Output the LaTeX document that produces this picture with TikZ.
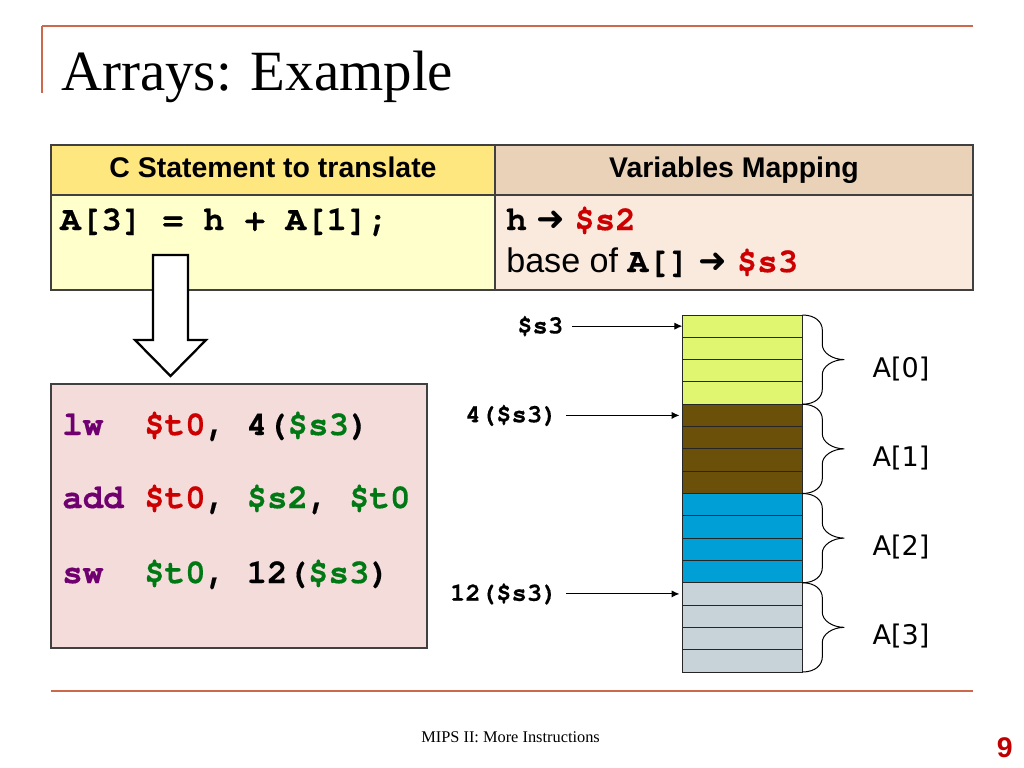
\documentclass[tikz,border=0pt]{standalone}
\usepackage{fontspec}
\setmainfont{Liberation Serif}
\setsansfont{Liberation Sans}
\setmonofont{texgyrecursor}[Extension=.otf, UprightFont=*-regular, BoldFont=*-bold,
    ItalicFont=*-italic, BoldItalicFont=*-bolditalic, BoldFeatures={FakeBold=0.4}]
\newfontfamily\labelfont{DejaVu Sans}
\definecolor{ruleorange}{RGB}{205, 105, 75}
\definecolor{hdryellow}{RGB}{255, 231, 128}
\definecolor{bodyyellow}{RGB}{255, 255, 204}
\definecolor{hdrtan}{RGB}{234, 210, 184}
\definecolor{bodytan}{RGB}{250, 234, 222}
\definecolor{codepink}{RGB}{244, 220, 218}
\definecolor{memyellow}{RGB}{224, 246, 112}
\definecolor{membrown}{RGB}{106, 80, 8}
\definecolor{memblue}{RGB}{0, 160, 214}
\definecolor{memgray}{RGB}{200, 211, 217}
\definecolor{mnempurple}{RGB}{112, 0, 112}
\definecolor{regred}{RGB}{204, 0, 0}
\definecolor{reggreen}{RGB}{0, 120, 20}
\definecolor{pagered}{RGB}{192, 0, 0}
\usetikzlibrary{arrows.meta, positioning, calc}

\newcommand{\pxlen}{0.7031pt}
\newcommand{\mono}[1]{{\ttfamily\bfseries #1}}
\newcommand{\mnem}[1]{\textcolor{mnempurple}{#1}}
\newcommand{\dreg}[1]{\textcolor{regred}{#1}}
\newcommand{\sreg}[1]{\textcolor{reggreen}{#1}}
\newcommand{\heavyarrow}{{\labelfont\bfseries ➜}}

\begin{document}
\begin{tikzpicture}[
    x=0.7031pt, y=-0.7031pt,
    rule/.style={ruleorange, line width=1.6pt},
    tabcell/.style={draw=black!75, line width=1pt, inner sep=0pt, outer sep=0pt},
    hdr/.style={tabcell, minimum height=50*\pxlen, text height=14pt, text depth=3pt,
                font=\sffamily\bfseries\fontsize{20}{24}\selectfont},
    txt/.style={anchor=base west, inner sep=0pt},
    code/.style={txt, font=\ttfamily\bfseries\fontsize{24}{28}\selectfont},
    cell/.style={draw=black!85, line width=0.7pt, minimum width=120*\pxlen,
                 minimum height=22.3125*\pxlen, inner sep=0pt, outer sep=0pt},
    ptr/.style={inner sep=0pt, font=\ttfamily\bfseries\fontsize{18}{20}\selectfont},
    ptrarr/.style={-{Latex[length=5.5pt, width=5pt]}, line width=0.7pt, shorten <=6pt},
    curly/.style={line width=0.7pt},
    idx/.style={anchor=west, inner sep=0pt, font=\labelfont\fontsize{19}{22}\selectfont},
    hollow/.style={draw=black, fill=white, line width=1.6pt, line join=miter}
]
    \fill[white] (0,0) rectangle (1024,768);
    \useasboundingbox (0,0) rectangle (1024,768);

    % slide frame and title
    \draw[rule] (42,26) -- (973,26);
    \draw[rule] (42,26) -- (42,93);
    \draw[rule] (51,691) -- (973,691);
    \node[txt, font=\rmfamily\fontsize{40}{44}\selectfont] (title) at (61,90) {Arrays: Example};

    % table
    \node[hdr, fill=hdryellow, minimum width=444*\pxlen] (stmthdr) at (273,170) {C Statement to translate};
    \node[hdr, fill=hdrtan, minimum width=478*\pxlen] (maphdr) at (734,170) {Variables Mapping};
    \node[tabcell, fill=bodyyellow, minimum width=444*\pxlen, minimum height=95*\pxlen,
          below=0pt of stmthdr] (stmtbody) {};
    \node[tabcell, fill=bodytan, minimum width=478*\pxlen, minimum height=95*\pxlen,
          below=0pt of maphdr] (mapbody) {};
    \node[code] (stmt) at (60,230) {A[3] = h + A[1];};
    \node[txt, font=\sffamily\fontsize{24}{28}\selectfont] (maph) at (506,230)
        {\mono{h} \heavyarrow{} \mono{\dreg{\$s2}}};
    \node[txt, font=\sffamily\fontsize{24}{28}\selectfont] (mapa) at (506,272)
        {base of \mono{A[]} \heavyarrow{} \mono{\dreg{\$s3}}};

    % translation arrow
    \draw[hollow] (153,255) -- (188,255) -- (188,340) -- (206,340) -- (170.5,376)
        -- (135,340) -- (153,340) -- cycle;

    % MIPS code
    \node[tabcell, fill=codepink, minimum width=376*\pxlen, minimum height=264*\pxlen] (codebox) at (239,516) {};
    \node[code] (lw) at (62,435) {\mnem{lw}\ \ \dreg{\$t0}, 4(\sreg{\$s3})};
    \node[code] (add) at (62,508) {\mnem{add} \dreg{\$t0}, \sreg{\$s2}, \sreg{\$t0}};
    \node[code] (sw) at (62,583) {\mnem{sw}\ \ \sreg{\$t0}, 12(\sreg{\$s3})};

    % memory words
    \foreach \g/\c in {0/memyellow, 1/membrown, 2/memblue, 3/memgray}
        \foreach \k in {0,...,3} {
            \pgfmathtruncatemacro{\i}{4*\g+\k}
            \node[cell, fill=\c] (cell\i) at (742.3, {315+22.3125*(\i+0.5)}) {};
        }
    \foreach \g in {0,...,3} {
        \pgfmathtruncatemacro{\a}{4*\g}
        \pgfmathtruncatemacro{\b}{4*\g+3}
        \draw[curly] (cell\a.north east) .. controls +(13,0) and +(0,-8) .. ++(20,15)
            -- ++(0,14.6) .. controls +(0,8) and +(-12,0) .. ++(22,15)
            .. controls +(-12,0) and +(0,-8) .. ++(-22,15)
            -- ++(0,14.6) .. controls +(0,8) and +(13,0) .. (cell\b.south east);
        \node[idx] (idx\g) at ($(cell\a.north east)!0.5!(cell\b.south east) + (70,9)$) {A[\g]};
    }

    % address pointers
    \node[ptr, left=83.5pt of cell0.west] (base) {\$s3};
    \node[ptr, left=87.5pt of cell4.west] (off4) {4(\$s3)};
    \node[ptr, left=87.5pt of cell12.west] (off12) {12(\$s3)};
    \draw[ptrarr] (base.east) -- (cell0.west);
    \draw[ptrarr, shorten >=2pt] (off4.east) -- (cell4.west);
    \draw[ptrarr, shorten >=2pt] (off12.east) -- (cell12.west);

    % footer
    \node[txt, font=\rmfamily\fontsize{11.5}{13}\selectfont] (footer) at (421,742) {MIPS II: More Instructions};
    \node[anchor=base east, inner sep=0pt, text=pagered,
          font=\sffamily\bfseries\fontsize{20}{24}\selectfont] (pagenum) at (1013,757) {9};
\end{tikzpicture}
\end{document}
